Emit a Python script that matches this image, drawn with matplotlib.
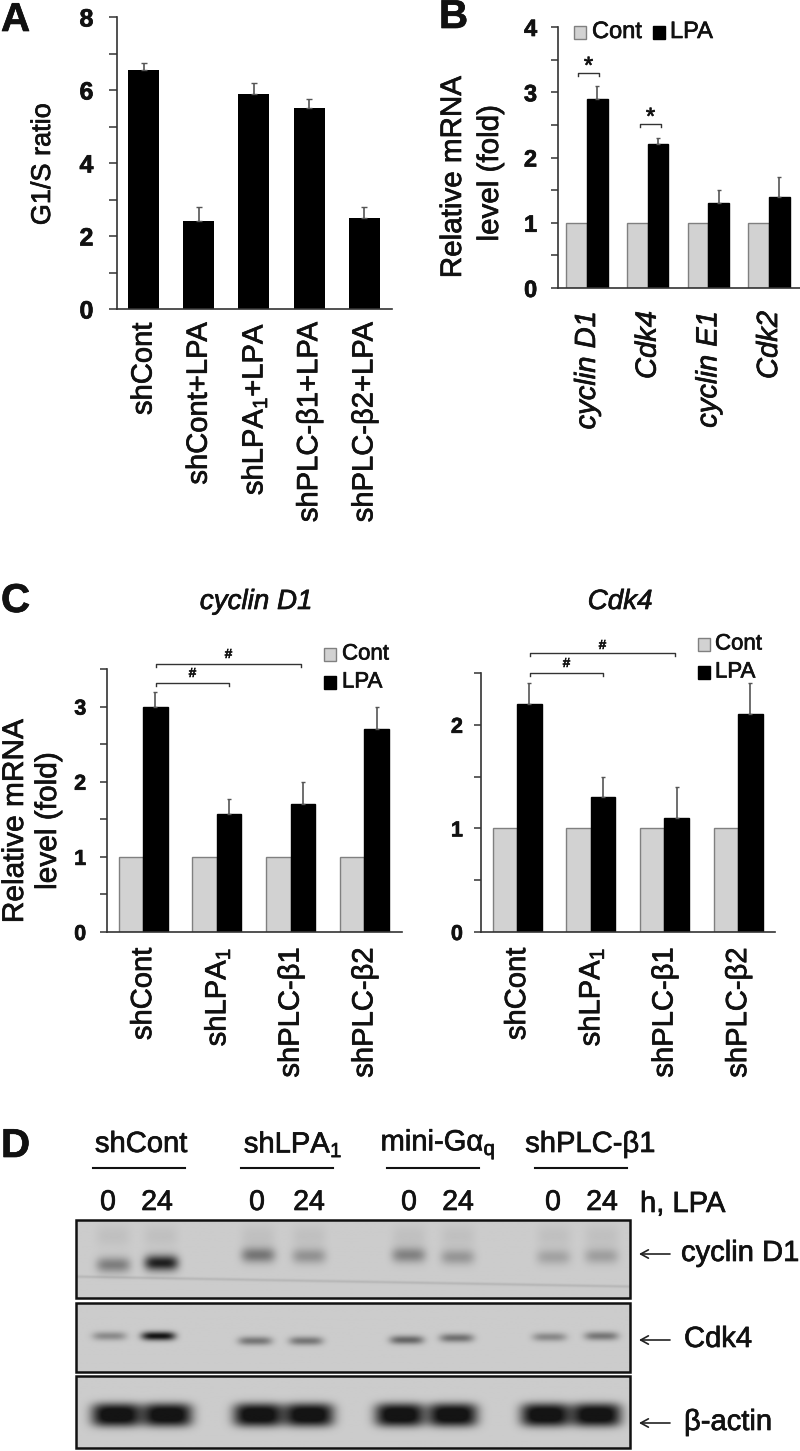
import numpy as np
import matplotlib
matplotlib.use("Agg")
import matplotlib.pyplot as plt
import matplotlib.patheffects as pe
from matplotlib.patches import Rectangle
from matplotlib.text import Text

plt.rcParams['font.family'] = ['Liberation Sans', 'DejaVu Sans']
plt.rcParams['mathtext.fontset'] = 'custom'
plt.rcParams['mathtext.rm'] = 'Liberation Sans'
plt.rcParams['mathtext.it'] = 'Liberation Sans'
plt.rcParams['mathtext.default'] = 'rm'

# panel A
a_labels = ["shCont", "shCont+LPA", "shLPA$_{1}$+LPA", "shPLC-β1+LPA", "shPLC-β2+LPA"]
a_vals = [6.55, 2.4, 5.9, 5.5, 2.5]
a_err = [0.2, 0.4, 0.3, 0.25, 0.3]

# panel B
b_labels = ["cyclin D1", "Cdk4", "cyclin E1", "Cdk2"]
b_cont = [1, 1, 1, 1]
b_lpa = [2.9, 2.2, 1.3, 1.4]
b_err = [0.2, 0.1, 0.2, 0.3]

# panel C
c_labels = ["shCont", "shLPA$_{1}$", "shPLC-β1", "shPLC-β2"]
c1_cont = [1, 1, 1, 1]
c1_lpa = [3.0, 1.57, 1.7, 2.7]
c1_err = [0.2, 0.2, 0.3, 0.3]
c2_cont = [1, 1, 1, 1]
c2_lpa = [2.2, 1.3, 1.1, 2.1]
c2_err = [0.2, 0.2, 0.3, 0.3]

# panel D, band darkness per lane
d_groups = ["shCont", "shLPA$_{1}$", "mini-Gα$_{q}$", "shPLC-β1"]
d_times = ["0", "24", "0", "24", "0", "24", "0", "24"]
d_cyclin = [0.38, 0.85, 0.42, 0.28, 0.36, 0.26, 0.2, 0.22]
d_cdk4 = [0.32, 0.92, 0.42, 0.42, 0.5, 0.45, 0.33, 0.42]
d_actin = [1.0, 1.0, 1.0, 1.0, 1.0, 1.0, 1.0, 1.0]

W, H = 800, 1451
GREY = "#d2d2d2"
fig = plt.figure(figsize=(W / 100, H / 100), dpi=100)


def ax_px(left, top, right, bottom):
    return fig.add_axes([left / W, 1 - bottom / H, (right - left) / W, (bottom - top) / H])


def style(ax, ymax, major, minor, size, pad):
    ticks = np.arange(0, ymax + 0.01, major)
    ax.set_ylim(0, ymax)
    ax.set_yticks(ticks)
    ax.set_yticklabels([str(int(v)) for v in ticks], fontsize=size, fontweight="bold")
    ax.set_yticks(np.arange(0, ymax + 0.01, minor), minor=True)
    ax.tick_params(axis="y", which="both", length=5, width=1.1, pad=pad, color="#333333")
    ax.tick_params(axis="x", length=0)
    for s in ["top", "right"]:
        ax.spines[s].set_visible(False)
    for s in ["left", "bottom"]:
        ax.spines[s].set_linewidth(1.2)
        ax.spines[s].set_color("#333333")


def grouped(ax, cont, lpa, err, w):
    x = np.arange(len(cont))
    ax.bar(x - w / 2, cont, w, color=GREY, edgecolor="#808080", linewidth=1)
    ax.bar(x + w / 2, lpa, w, color="black", edgecolor="black", linewidth=1)
    ax.errorbar(x + w / 2, lpa, yerr=[[0] * len(err), err], fmt="none", ecolor="#555555",
                elinewidth=1.2, capsize=1.5, capthick=1)
    return x


# A
ax = ax_px(117, 17, 392, 309)
x = np.arange(len(a_vals))
ax.bar(x, a_vals, 0.56, color="black")
ax.errorbar(x, a_vals, yerr=[[0] * len(a_err), a_err], fmt="none", ecolor="#555555",
            elinewidth=1.2, capsize=2, capthick=1)
ax.set_xlim(-0.48, 4.5)
style(ax, 8, 2, 1, 18, 11)
ax.tick_params(axis="y", which="both", length=6)
ax.set_xticks(x)
ax.set_xticklabels(a_labels, rotation=90, fontsize=21)
ax.tick_params(axis="x", pad=10)

# B
ax = ax_px(558, 27, 800, 288)
x = grouped(ax, b_cont, b_lpa, b_err, 0.34)
ax.set_xlim(-0.478, 3.51)
style(ax, 4, 1, 0.5, 17, 10)
ax.set_xticks(x)
ax.set_xticklabels(b_labels, rotation=90, fontsize=21, fontstyle="italic")
ax.tick_params(axis="x", pad=16.5)

# C left
ax = ax_px(107, 669, 402, 932)
x = grouped(ax, c1_cont, c1_lpa, c1_err, 0.333)
ax.set_xlim(-0.49, 3.51)
style(ax, 3.5, 1, 0.5, 15.5, 10)
ax.set_xticks(x)
ax.set_xticklabels(c_labels, rotation=90, fontsize=21)
ax.tick_params(axis="x", pad=11.5)

# C right
ax = ax_px(481, 673, 775, 932)
x = grouped(ax, c2_cont, c2_lpa, c2_err, 0.333)
ax.set_xlim(-0.49, 3.5)
style(ax, 2.5, 1, 0.5, 15.5, 8)
ax.set_xticks(x)
ax.set_xticklabels(c_labels, rotation=90, fontsize=21)
ax.tick_params(axis="x", pad=11.5)

# overlay in pixel coordinates for letters, legends, brackets and the blot
ov = fig.add_axes([0, 0, 1, 1], facecolor="none")
ov.axis("off")

for letter, lx, ly in [("A", 1, 20), ("B", 439, 17), ("C", 1, 601), ("D", 1, 1146)]:
    ov.text(lx, ly, letter, fontsize=29, fontweight="bold", ha="left", va="center")

# axis titles
ov.text(43, 164, "G1/S ratio", fontsize=19.5, rotation=90, ha="center", va="center")
ov.text(453, 177, "Relative mRNA", fontsize=21.3, rotation=90, ha="center", va="center")
ov.text(490, 173, "level (fold)", fontsize=21.3, rotation=90, ha="center", va="center")
ov.text(15, 821, "Relative mRNA", fontsize=21.5, rotation=90, ha="center", va="center")
ov.text(48, 821, "level (fold)", fontsize=21.5, rotation=90, ha="center", va="center")

ov.text(256, 602, "cyclin D1", fontsize=20, fontstyle="italic", ha="center", va="center")
ov.text(620, 602, "Cdk4", fontsize=20, fontstyle="italic", ha="center", va="center")


def legend(x1, y1, x2, y2, tx1, tx2, size):
    ov.add_patch(Rectangle((x1, y1 - 6.5), 11.5, 13, facecolor=GREY, edgecolor="#808080", lw=1))
    ov.add_patch(Rectangle((x2, y2 - 6.5), 11.5, 13, facecolor="black", edgecolor="black", lw=1))
    ov.text(tx1, y1, "Cont", fontsize=size, va="center")
    ov.text(tx2, y2, "LPA", fontsize=size, va="center")


legend(574, 32, 653, 32, 592, 670, 17)
legend(324, 654, 324, 682, 342, 342, 16)
legend(698, 644, 698, 672, 715, 715, 16)


def bracket(x1, x2, y, mark, my, size=14, tick=3):
    ov.plot([x1, x1, x2, x2], [y + tick, y, y, y + tick], color="#333333", lw=1)
    ov.text((x1 + x2) / 2, my, mark, fontsize=size, ha="center", va="center")


bracket(578, 599, 73, "*", 67, 17)
bracket(640, 661, 124, "*", 118, 17)
bracket(156, 229, 683, "#", 674, 9.5)
bracket(156, 301, 664, "#", 655, 9.5)
bracket(530, 603, 673, "#", 664, 9.5)
bracket(530, 675, 653, "#", 646, 9.5)

# D: headers, lanes, blot strips
time_x = [108, 157, 257, 309, 409, 458, 553, 602]
for gx, name, l1, l2 in zip([141, 293, 438, 590], d_groups, [93, 241, 387, 535], [185, 333, 479, 627]):
    ov.text(gx, 1144, name, fontsize=21, ha="center", va="center")
    ov.plot([l1, l2], [1168, 1168], color="#111111", lw=1.5)
for lx, t in zip(time_x, d_times):
    ov.text(lx, 1203, t, fontsize=20.5, ha="center", va="center")
ov.text(640, 1204, "h, LPA", fontsize=21, ha="left", va="center")


def blot(top, bottom, vals, xs, ys, sx, sy, base, power=2, ghost=0.0, line=None):
    xx, yy = np.meshgrid(np.arange(76, 631), np.arange(top, bottom + 1))
    dark = np.zeros(xx.shape)
    for lx, ly, v in zip(xs, ys, vals):
        dark += v * np.exp(-((xx - lx) / sx) ** 4 - np.abs((yy - ly) / sy) ** power)
        if ghost:
            dark += ghost * np.exp(-((xx - lx) / sx) ** 4 - ((yy - (top + 16)) / 11) ** 2)
    if line:
        yl = line[0] + (xx - 76) / 554 * (line[1] - line[0])
        dark += 0.1 * np.exp(-((yy - yl) / 1.5) ** 2)
    img = np.clip(base * (1 - np.clip(dark, 0, 1)), 0.08, 1)
    ov.imshow(img, cmap="gray", vmin=0, vmax=1, extent=(76, 630, bottom, top), aspect="auto", zorder=1)
    ov.add_patch(Rectangle((76, top), 554, bottom - top, fill=False, edgecolor="#111111", lw=1.8, zorder=2))


blot(1220, 1298, d_cyclin, [113, 161, 258, 309, 409, 458, 554, 602],
     [1265, 1263, 1255, 1256, 1255, 1257, 1257, 1256], 17, 8, 0.8, ghost=0.06, line=(1277, 1287))
blot(1303, 1372, d_cdk4, [109, 158, 255, 306, 407, 457, 550, 602],
     [1336, 1336, 1341, 1341, 1340, 1338, 1337, 1336], 17, 4.5, 0.8)
blot(1376, 1448, d_actin, [116, 167, 258, 309, 400, 453, 546, 597],
     [1415, 1415, 1415, 1415, 1415, 1415, 1415, 1415], 25, 12, 0.8, power=3)
ov.set_xlim(0, W)
ov.set_ylim(H, 0)

for ly, name, tx in [(1254, "cyclin D1", 681), (1340, "Cdk4", 684), (1423, "β-actin", 684)]:
    ov.annotate("", xy=(639, ly), xytext=(670, ly),
                arrowprops=dict(arrowstyle="->,head_length=0.55,head_width=0.3", color="#222222", lw=1.2,
                                shrinkA=0, shrinkB=0))
    ov.text(tx, ly - 1, name, fontsize=21, ha="left", va="center")

# slight thickening, the scanned lettering is heavier than the plain font
for t in fig.findobj(Text):
    if t.get_text():
        t.set_color("#111111")
        t.set_path_effects([pe.withStroke(linewidth=0.5, foreground="#111111")])

fig.savefig("out.png", dpi=100)
